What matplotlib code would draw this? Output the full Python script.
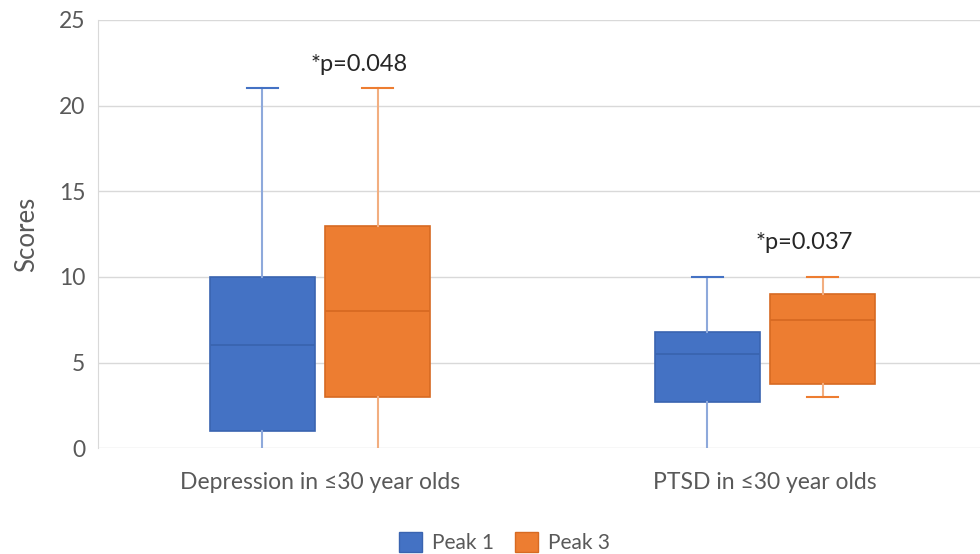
import matplotlib

matplotlib.use("Agg")

import matplotlib.pyplot as plt
from matplotlib.patches import Patch

# five-number summaries
categories = ["Depression in \u226430 year olds", "PTSD in \u226430 year olds"]
series = ["Peak 1", "Peak 3"]
whislo = {"Peak 1": [0, 0], "Peak 3": [0, 3]}
q1 = {"Peak 1": [1, 2.7], "Peak 3": [3, 3.75]}
med = {"Peak 1": [6, 5.5], "Peak 3": [8, 7.5]}
q3 = {"Peak 1": [10, 6.8], "Peak 3": [13, 9]}
whishi = {"Peak 1": [21, 10], "Peak 3": [21, 10]}
p_labels = ["*p=0.048", "*p=0.037"]
p_heights = [22.4, 12.0]

fill = {"Peak 1": "#4472C4", "Peak 3": "#ED7D31"}
edge = {"Peak 1": "#3A64B0", "Peak 3": "#D76A22"}
whisk = {"Peak 1": "#8EA9DB", "Peak 3": "#F2AE80"}
offsets = {"Peak 1": -0.13, "Peak 3": 0.13}

plt.rcParams["font.family"] = ["Lato", "DejaVu Sans"]

fig = plt.figure(figsize=(9.8, 5.54), dpi=100)
ax = fig.add_axes([0.1, 0.191, 0.9, 0.773])

for s in series:
    stats = []
    for i in range(len(categories)):
        stats.append(dict(whislo=whislo[s][i], q1=q1[s][i], med=med[s][i],
                          q3=q3[s][i], whishi=whishi[s][i], fliers=[]))
    pos = [i + offsets[s] for i in range(len(categories))]
    parts = ax.bxp(stats, positions=pos, widths=0.236, patch_artist=True,
                   showfliers=False, capwidths=0.07,
                   boxprops=dict(facecolor=fill[s], edgecolor=edge[s], linewidth=1.2),
                   medianprops=dict(color=edge[s], linewidth=1.3),
                   whiskerprops=dict(color=whisk[s], linewidth=1.5),
                   capprops=dict(color=fill[s], linewidth=1.5),
                   zorder=3)
    # Excel hides the lower cap when it sits on the zero line
    for i in range(len(categories)):
        if whislo[s][i] == 0:
            parts["caps"][2 * i].set_visible(False)

for i, (lab, h) in enumerate(zip(p_labels, p_heights)):
    ax.text(i + 0.088, h, lab, ha="center", va="center", fontsize=17,
            color="#262626")

ax.set_xlim(-0.499, 1.483)
ax.set_ylim(0, 25)
ax.set_yticks([0, 5, 10, 15, 20, 25])
ax.set_xticks(range(len(categories)))
ax.set_xticklabels(categories, fontsize=16.5)
ax.tick_params(axis="both", length=0, colors="#595959")
ax.tick_params(axis="y", labelsize=16.5, pad=9)
ax.tick_params(axis="x", pad=17)
ax.grid(axis="y", color="#D9D9D9", linewidth=1.0, zorder=0)
ax.set_axisbelow(True)
for side in ["top", "right", "bottom"]:
    ax.spines[side].set_visible(False)
ax.spines["left"].set_color("#D9D9D9")
ax.set_ylabel("Scores", fontsize=18.5, color="#595959", labelpad=14)

handles = [Patch(facecolor=fill[s], edgecolor=edge[s], label=s) for s in series]
fig.legend(handles=handles, loc="center", bbox_to_anchor=(0.515, 0.02),
           ncol=2, frameon=False, fontsize=15, labelcolor="#595959",
           handlelength=1.1, handleheight=1.1, columnspacing=1.0,
           handletextpad=0.5)

fig.savefig("out.png", dpi=100)
